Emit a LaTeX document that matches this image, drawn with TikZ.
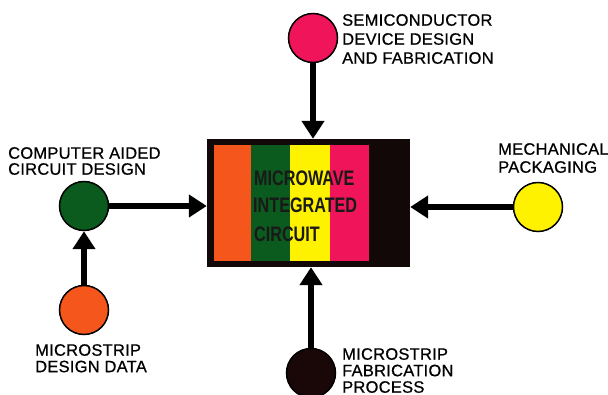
\documentclass[tikz,border=0pt]{standalone}
\usepackage{fontspec}
\usepackage{graphicx}
\usetikzlibrary{arrows.meta}
\newfontfamily\labfont[LetterSpace=1.5,FakeBold=0.6]{Liberation Sans}
\newfontfamily\boxfont{Liberation Sans}
\definecolor{cOrange}{HTML}{F4561C}
\definecolor{cGreen}{HTML}{0B5A1E}
\definecolor{cYellow}{HTML}{FFF200}
\definecolor{cPink}{HTML}{F0145A}
\definecolor{cDark}{HTML}{1A0808}
\definecolor{cBox}{HTML}{120808}
\begin{document}
\begin{tikzpicture}[x=1pt,y=-1pt,
  dot/.style={circle, draw=black, line width=1.5pt, minimum size=49pt, inner sep=0pt},
  lab/.style={font=\labfont\fontsize{16.5}{#1}\selectfont, align=left, anchor=north west, inner sep=0pt, text=black},
  boxtxt/.style={font=\boxfont\bfseries\fontsize{21}{25}\selectfont, anchor=base west, inner sep=0pt, text=black!90},
  arr/.style={line width=6.5pt, draw=black, -{Triangle[width=22pt,length=18pt]}}]
\fill[white] (0,0) rectangle (608,395);
\useasboundingbox (0,0) rectangle (608,395);
\clip (0,0) rectangle (608,395);
% central box
\node[fill=cBox, minimum width=203pt, minimum height=128pt, inner sep=0pt] (box) at (308.5,203) {};
\fill[cOrange] (214,145) rectangle (251,261);
\fill[cGreen] (251,145) rectangle (290,261);
\fill[cYellow] (290,145) rectangle (330,261);
\fill[cPink] (330,145) rectangle (369,261);
\node[boxtxt] (t1) at (254,186) {\scalebox{0.77}[1]{MICROWAVE}};
\node[boxtxt] (t2) at (253,213) {\scalebox{0.77}[1]{INTEGRATED}};
\node[boxtxt] (t3) at (254,242) {\scalebox{0.77}[1]{CIRCUIT}};
% circles
\node[dot, fill=cPink] (semi) at (313,38) {};
\node[dot, fill=cGreen] (cad) at (84,206) {};
\node[dot, fill=cOrange] (msd) at (84,310) {};
\node[dot, fill=cYellow] (mech) at (538,207) {};
\node[dot, fill=cDark] (fab) at (311,373) {};
% arrows
\draw[arr] (semi) -- (semi |- box.north);
\draw[arr] (cad) -- (cad -| box.west);
\draw[arr] (msd) -- (cad.south);
\draw[arr] (mech) -- (mech -| box.east);
\draw[arr] (fab) -- (fab |- box.south);
% labels
\node[lab=19] (lsemi) at (342,14) {SEMICONDUCTOR\\DEVICE DESIGN\\AND FABRICATION};
\node[lab=16] (lcad) at (8,147) {COMPUTER AIDED\\CIRCUIT DESIGN};
\node[lab=18] (lmech) at (498,143) {MECHANICAL\\PACKAGING};
\node[lab=16.5] (lmsd) at (35,344) {MICROSTRIP\\DESIGN DATA};
\node[lab=16.5] (lfab) at (342,348) {MICROSTRIP\\FABRICATION\\PROCESS};
\end{tikzpicture}
\end{document}
